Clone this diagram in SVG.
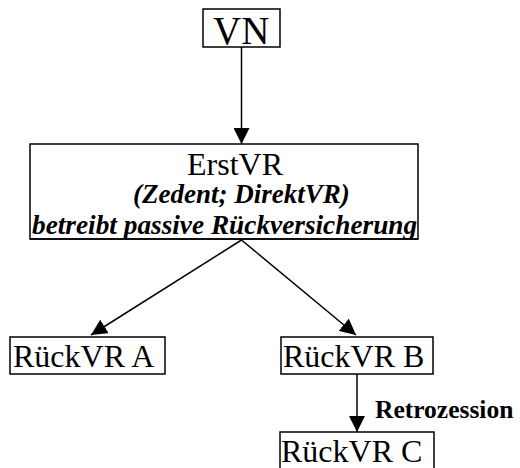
<svg xmlns="http://www.w3.org/2000/svg" width="520" height="468" viewBox="0 0 520 468">
<style>
.box{fill:#fff;stroke:#000;stroke-width:1.5}
.t{font-family:"Liberation Serif","Times New Roman",serif;fill:#000}
.bi{font-weight:bold;font-style:italic}
.conn line{stroke:#000;stroke-width:1.5}
</style>
<defs>
<marker id="ah" viewBox="0 0 16 16" refX="16" refY="8" markerWidth="16" markerHeight="16" markerUnits="userSpaceOnUse" orient="auto">
<path d="M0,0 L16,8 L0,16 Z" fill="#000"/>
</marker>
<clipPath id="erstclip"><rect x="30" y="144" width="388" height="95"/></clipPath>
</defs>
<g id="conn" class="conn">
<line x1="241.5" y1="47" x2="241.5" y2="144" marker-end="url(#ah)"/>
<line x1="241.5" y1="240" x2="91" y2="335" marker-end="url(#ah)"/>
<line x1="241.5" y1="240" x2="356" y2="335" marker-end="url(#ah)"/>
<line x1="357" y1="374" x2="357" y2="432" marker-end="url(#ah)"/>
</g>
<g id="vn">
<rect class="box" x="203" y="9" width="77" height="38"/>
<text class="t" x="213" y="44" font-size="39">VN</text>
</g>
<g id="erstvr">
<rect class="box" x="30" y="144" width="388" height="95"/>
<text class="t" x="187" y="175" font-size="32">ErstVR</text>
<text class="t bi" x="133" y="203" font-size="27">(Zedent; DirektVR)</text>
<text class="t bi" x="32" y="234" font-size="27.3" clip-path="url(#erstclip)">betreibt passive Rückversicherung</text>
<line x1="30" y1="239" x2="418" y2="239" stroke="#000" stroke-width="1.5"/>
</g>
<g id="rueckvra">
<rect class="box" x="10" y="337" width="155" height="37"/>
<text class="t" x="13" y="367" font-size="32">RückVR A</text>
</g>
<g id="rueckvrb">
<rect class="box" x="281" y="337" width="152" height="37"/>
<text class="t" x="283" y="367" font-size="32">RückVR B</text>
</g>
<g id="rueckvrc">
<rect class="box" x="280" y="432" width="154" height="40"/>
<text class="t" x="281" y="462" font-size="32">RückVR C</text>
</g>
<text class="t" x="375" y="418" font-size="25.5" font-weight="bold">Retrozession</text>
</svg>
